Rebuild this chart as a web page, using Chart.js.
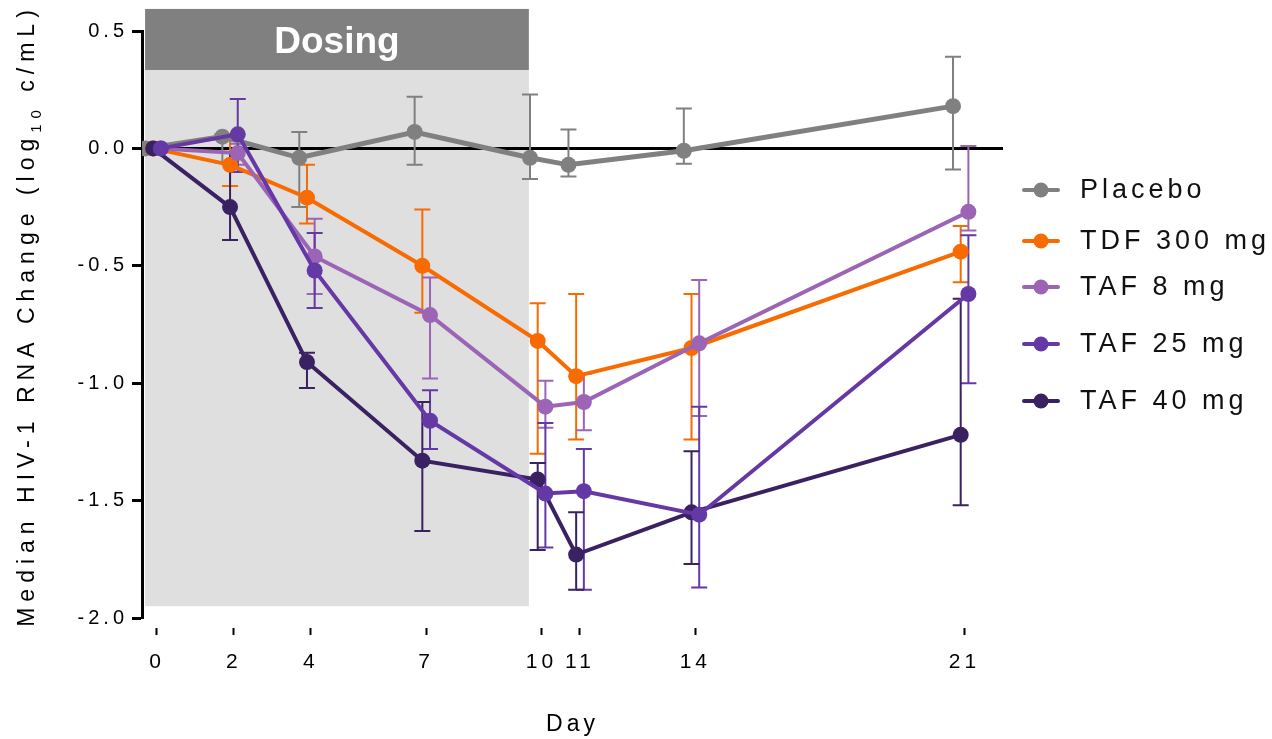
<!DOCTYPE html>
<html>
<head>
<meta charset="utf-8">
<script src="https://cdn.jsdelivr.net/npm/chart.js@4.4.1/dist/chart.umd.min.js"></script>
<style>
  html, body { margin: 0; padding: 0; background: #fff; }
  #wrap { position: relative; width: 1272px; height: 739px; }
</style>
</head>
<body>
<div id="wrap"><canvas id="hivChart" width="1272" height="739"></canvas></div>
<script>
// days sampled, and the tick labels on the x axis
const days = [0, 2, 4, 7, 10, 11, 14, 21];
const dayTicks = [0, 2, 4, 7, 10, 11, 14, 21];
const yTicks = [-2.0, -1.5, -1.0, -0.5, 0.0, 0.5];

const seriesNames = ['Placebo', 'TDF 300 mg', 'TAF 8 mg', 'TAF 25 mg', 'TAF 40 mg'];
const seriesColors = ['#808080', '#f76b00', '#9b64b4', '#6539a5', '#3a2162'];
// small horizontal nudge (in days) so the groups don't sit on top of each other
const dayOffsets = [-0.3, -0.1, 0.1, 0.1, -0.1];

// median change (log10 c/mL)
const placebo = [0, 0.05, -0.04, 0.07, -0.04, -0.07, -0.01, 0.18];
const tdf300  = [0, -0.07, -0.21, -0.50, -0.82, -0.97, -0.85, -0.44];
const taf8    = [0, -0.02, -0.46, -0.71, -1.10, -1.08, -0.83, -0.27];
const taf25   = [0, 0.06, -0.52, -1.16, -1.47, -1.46, -1.56, -0.62];
const taf40   = [0, -0.25, -0.91, -1.33, -1.41, -1.73, -1.55, -1.22];

// error bar ends
const placeboHi = [null, 0.06, 0.07, 0.22, 0.23, 0.08, 0.17, 0.39];
const placeboLo = [null, -0.06, -0.25, -0.07, -0.13, -0.12, -0.065, -0.09];
const tdf300Hi  = [null, 0.035, -0.07, -0.26, -0.66, -0.62, -0.62, -0.33];
const tdf300Lo  = [null, -0.16, -0.32, -0.70, -1.30, -1.24, -1.24, -0.57];
const taf8Hi    = [null, 0.02, -0.30, -0.55, -0.99, -0.96, -0.56, 0.01];
const taf8Lo    = [null, -0.07, -0.62, -0.98, -1.19, -1.20, -1.14, -0.35];
const taf25Hi   = [null, 0.21, -0.36, -1.03, -1.17, -1.28, -1.10, -0.37];
const taf25Lo   = [null, -0.10, -0.68, -1.28, -1.70, -1.88, -1.87, -1.00];
const taf40Hi   = [null, -0.02, -0.87, -1.08, -1.34, -1.55, -1.29, -0.64];
const taf40Lo   = [null, -0.39, -1.02, -1.63, -1.71, -1.88, -1.77, -1.52];

const seriesValues = [placebo, tdf300, taf8, taf25, taf40];
const seriesHi = [placeboHi, tdf300Hi, taf8Hi, taf25Hi, taf40Hi];
const seriesLo = [placeboLo, tdf300Lo, taf8Lo, taf25Lo, taf40Lo];
// which one ends up on top (lower = drawn later)
const drawOrder = [5, 4, 3, 1, 2];

// dosing period shading (x in days, y in axis units)
const dosingStart = -0.31;
const dosingEnd = 9.67;
const dosingHeaderTop = 0.594;
const dosingHeaderBottom = 0.334;
const dosingShadeBottom = -1.95;

const FONT = "'Liberation Sans', Arial, sans-serif";
const legendRowsY = [190, 241, 287, 344, 401];

const datasets = seriesNames.map((name, s) => ({
  label: name,
  data: days.map((d, i) => ({ x: d + dayOffsets[s], y: seriesValues[s][i] })),
  borderColor: seriesColors[s],
  backgroundColor: seriesColors[s],
  pointBackgroundColor: seriesColors[s],
  pointBorderWidth: 0,
  pointRadius: 8,
  borderWidth: s === 0 ? 5 : 4,
  tension: 0,
  order: drawOrder[s]
}));

const decor = {
  id: 'decor',
  beforeDraw(chart) {
    chart.ctx.letterSpacing = '4px';
  },
  beforeDatasetsDraw(chart) {
    const { ctx, chartArea, scales: { x, y } } = chart;
    ctx.save();
    ctx.letterSpacing = '0px';
    const x0 = x.getPixelForValue(dosingStart);
    const x1 = x.getPixelForValue(dosingEnd);
    const hTop = y.getPixelForValue(dosingHeaderTop);
    const hBot = y.getPixelForValue(dosingHeaderBottom);
    const sBot = y.getPixelForValue(dosingShadeBottom);
    ctx.fillStyle = '#dfdfdf';
    ctx.fillRect(x0, hBot, x1 - x0, sBot - hBot);
    ctx.fillStyle = '#808080';
    ctx.fillRect(x0, hTop, x1 - x0, hBot - hTop);
    ctx.fillStyle = '#fff';
    ctx.font = 'bold 37px ' + FONT;
    ctx.textAlign = 'center';
    ctx.textBaseline = 'alphabetic';
    ctx.fillText('Dosing', (x0 + x1) / 2, (hTop + hBot) / 2 + 37 * 0.36);

    // zero line
    const y0 = y.getPixelForValue(0);
    ctx.strokeStyle = '#000';
    ctx.lineWidth = 3;
    ctx.beginPath();
    ctx.moveTo(chartArea.left, y0);
    ctx.lineTo(chartArea.right, y0);
    ctx.stroke();

    // error bars
    ctx.lineWidth = 2;
    seriesNames.forEach((n, s) => {
      ctx.strokeStyle = seriesColors[s];
      days.forEach((d, i) => {
        const hi = seriesHi[s][i], lo = seriesLo[s][i];
        if (hi == null || lo == null) return;
        const px = x.getPixelForValue(d + dayOffsets[s]);
        const pHi = y.getPixelForValue(hi), pLo = y.getPixelForValue(lo);
        ctx.beginPath();
        ctx.moveTo(px, pHi); ctx.lineTo(px, pLo);
        ctx.moveTo(px - 8, pHi); ctx.lineTo(px + 8, pHi);
        ctx.moveTo(px - 8, pLo); ctx.lineTo(px + 8, pLo);
        ctx.stroke();
      });
    });
    ctx.restore();
  },
  afterDraw(chart) {
    const ctx = chart.ctx;
    ctx.save();
    // legend
    ctx.textAlign = 'left';
    ctx.textBaseline = 'middle';
    ctx.font = '27px ' + FONT;
    ctx.letterSpacing = '4px';
    seriesNames.forEach((name, s) => {
      const ly = legendRowsY[s];
      ctx.strokeStyle = seriesColors[s];
      ctx.fillStyle = seriesColors[s];
      ctx.lineWidth = 4;
      ctx.lineCap = 'round';
      ctx.beginPath();
      ctx.moveTo(1024, ly); ctx.lineTo(1058, ly);
      ctx.stroke();
      ctx.beginPath();
      ctx.arc(1041, ly, 7.5, 0, Math.PI * 2);
      ctx.fill();
      ctx.fillStyle = '#111';
      ctx.fillText(name, 1080, ly + 1);
    });

    // y axis title with subscript
    const sp = 6;
    const mainFont = '23px ' + FONT, subFont = '15px ' + FONT;
    const parts = [
      { t: 'Median HIV-1 RNA Change (log', f: mainFont, dy: 0 },
      { t: '10', f: subFont, dy: 7 },
      { t: ' c/mL)', f: mainFont, dy: 0 }
    ];
    ctx.letterSpacing = sp + 'px';
    let total = 0;
    parts.forEach(p => { ctx.font = p.f; p.w = ctx.measureText(p.t).width; total += p.w; });
    total -= sp;
    ctx.translate(34, 318.5);
    ctx.rotate(-Math.PI / 2);
    ctx.fillStyle = '#000';
    ctx.textAlign = 'left';
    ctx.textBaseline = 'alphabetic';
    let cx = -total / 2;
    parts.forEach(p => { ctx.font = p.f; ctx.fillText(p.t, cx, p.dy); cx += p.w; });
    ctx.restore();
  }
};

new Chart(document.getElementById('hivChart'), {
  type: 'line',
  data: { datasets },
  plugins: [decor],
  options: {
    responsive: false,
    devicePixelRatio: 1,
    animation: false,
    events: [],
    layout: { padding: { top: 31, right: 269, left: 0, bottom: 0 } },
    plugins: { legend: { display: false }, tooltip: { enabled: false } },
    scales: {
      x: {
        type: 'linear',
        min: -0.39,
        max: 22,
        afterBuildTicks: s => { s.ticks = dayTicks.map(v => ({ value: v })); },
        afterFit: s => { s.height = 121; },
        border: { display: false },
        grid: {
          display: true,
          drawOnChartArea: false,
          drawTicks: true,
          tickLength: 18,
          tickColor: '#000',
          tickWidth: 2,
          tickBorderDash: [0, 10, 7, 100]
        },
        ticks: {
          autoSkip: false,
          maxRotation: 0,
          padding: 14,
          color: '#000',
          font: { family: FONT, size: 21 },
          callback: v => String(v)
        },
        title: {
          display: true,
          text: 'Day',
          color: '#000',
          font: { family: FONT, size: 23 },
          padding: { top: 0, bottom: 1 }
        }
      },
      y: {
        min: -2,
        max: 0.5,
        afterBuildTicks: s => { s.ticks = yTicks.map(v => ({ value: v })); },
        afterFit: s => { s.width = 142; },
        border: { display: true, color: '#000', width: 3 },
        grid: {
          drawOnChartArea: false,
          tickLength: 10,
          tickColor: '#000',
          tickWidth: 3
        },
        ticks: {
          padding: 4,
          color: '#000',
          font: { family: FONT, size: 20 },
          callback: v => v.toFixed(1)
        }
      }
    }
  }
});
</script>
</body>
</html>
